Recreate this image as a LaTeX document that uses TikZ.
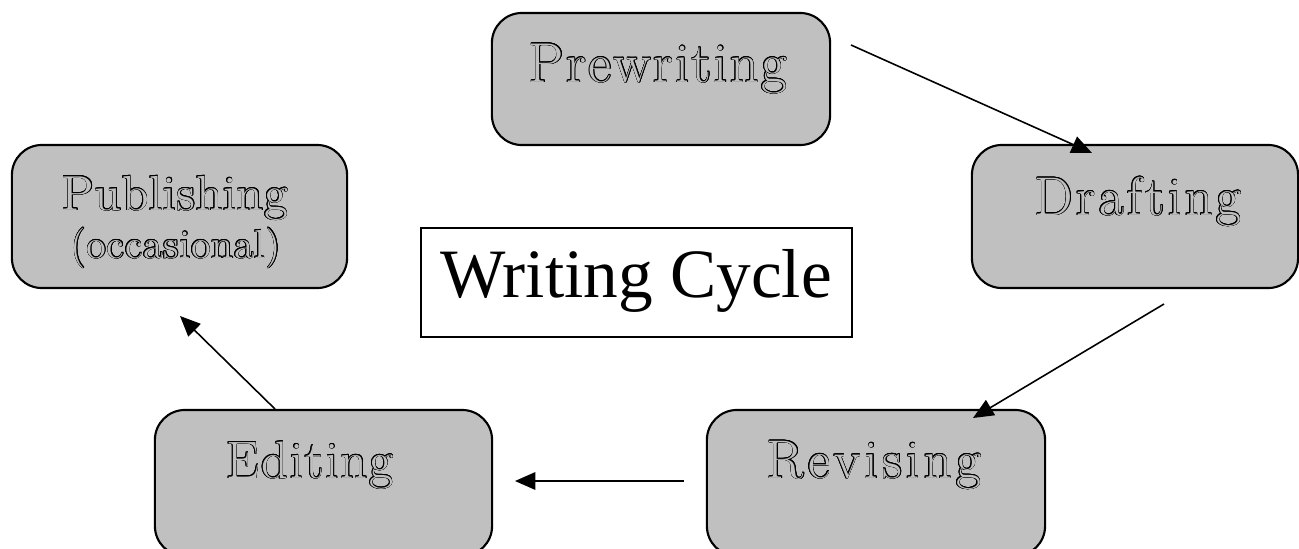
\documentclass[tikz,border=0pt]{standalone}
\usepackage{fontspec}
\usepackage{contour}
\usetikzlibrary{arrows.meta}
\newfontfamily\titlefont{Liberation Serif}
\definecolor{boxgray}{HTML}{C0C0C0}
\contourlength{0.16pt}
\ExplSyntaxOn
\NewDocumentCommand\spacedtext{mm}{\kern-#1\tl_map_inline:nn{#2}{\kern#1 ##1}}
\ExplSyntaxOff
\newcommand{\outl}[2]{\contour{black}{\textcolor{boxgray}{\spacedtext{#1}{#2}}}}
\newcommand{\fsz}[1]{\fontsize{#1}{1.2\dimexpr#1\relax}\selectfont}
\begin{document}
\begin{tikzpicture}[x=0.01cm,y=-0.01cm,
  stagebox/.style={draw=black, line width=0.6pt, fill=boxgray, rounded corners=0.3cm, inner sep=0pt},
  titlebox/.style={draw=black, line width=0.6pt, fill=white, inner sep=0pt},
  stagetext/.style={anchor=base, inner sep=0pt},
  flow/.style={line width=0.45pt, -{Triangle[length=5.8pt,width=5pt]}}]
\useasboundingbox (0,0) rectangle (1299,548);
\clip (0,0) rectangle (1299,548);

% boxes
\node[stagebox, minimum width=3.38cm, minimum height=1.32cm] (pre) at (661,79) {};
\node[stagebox, minimum width=3.26cm, minimum height=1.43cm] (dra) at (1135,216.5) {};
\node[stagebox, minimum width=3.35cm, minimum height=1.43cm] (pub) at (179.5,216.5) {};
\node[titlebox, minimum width=4.31cm, minimum height=1.09cm] (wc) at (636.5,282.5) {};
\node[stagebox, minimum width=3.37cm, minimum height=1.46cm] (edi) at (323.5,483) {};
\node[stagebox, minimum width=3.38cm, minimum height=1.46cm] (rev) at (876,483) {};

% texts
\node[stagetext] (pret) at (658,82) {\fsz{16pt}\outl{0.63pt}{Prewriting}};
\node[stagetext] (drat) at (1138,215) {\fsz{15.5pt}\outl{0.94pt}{Drafting}};
\node[stagetext] (pubt) at (175,210) {\fsz{14pt}\outl{0.1pt}{Publishing}};
\node[stagetext] (occt) at (176,258) {\fsz{11.5pt}\outl{0.15pt}{(occasional)}};
\node[stagetext] (edit) at (310,478) {\fsz{15pt}\outl{0.52pt}{Editing}};
\node[stagetext] (revt) at (874,478) {\fsz{15.5pt}\outl{1.18pt}{Revising}};
\node[stagetext] (wct) at (636,297) {\titlefont\fsz{19.7pt}Writing Cycle};

% connector ends
\coordinate (a1s) at (851,45);
\coordinate (a1e) at (1092,153);
\coordinate (a2s) at (1164,304);
\coordinate (a2e) at (973,418);
\coordinate (a3s) at (684,481);
\coordinate (a3e) at (515,481);
\coordinate (a4s) at (275,409);
\coordinate (a4e) at (180,316);

\draw[flow] (a1s) -- (a1e);
\draw[flow] (a2s) -- (a2e);
\draw[flow] (a3s) -- (a3e);
\draw[flow] (a4s) -- (a4e);
\end{tikzpicture}
\end{document}
